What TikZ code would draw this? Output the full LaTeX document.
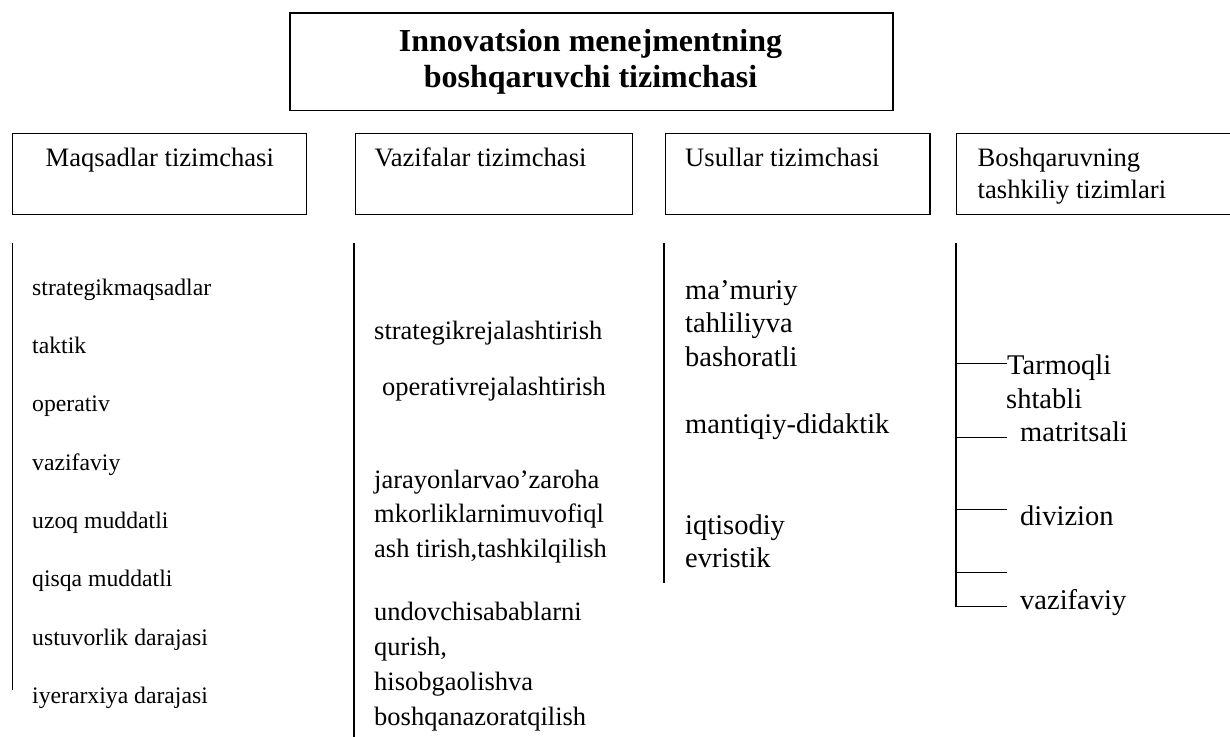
\documentclass[tikz,border=0pt]{standalone}
\usepackage{fontspec}
\setmainfont{Liberation Serif}
\begin{document}
\begin{tikzpicture}[x=1pt,y=-1pt,
  frame/.style={draw, line width=1.3pt, inner sep=0pt, anchor=north west},
  titleframe/.style={frame, line width=1.8pt},
  titletxt/.style={anchor=base, inner sep=0pt, font=\fontsize{32}{38}\selectfont\bfseries},
  headtxt/.style={anchor=base west, inner sep=0pt, font=\fontsize{26.6}{32}\selectfont},
  itemA/.style={anchor=base west, inner sep=0pt, font=\fontsize{23.7}{28}\selectfont},
  itemB/.style={anchor=base west, inner sep=0pt, font=\fontsize{26.5}{32}\selectfont},
  itemC/.style={anchor=base west, inner sep=0pt, font=\fontsize{28.5}{34}\selectfont},
  rule/.style={line width=1.3pt}]
\useasboundingbox (0,0) rectangle (1230,736);

% top box
\node[titleframe, minimum width=603pt, minimum height=97.8pt] (top) at (289,11.7) {};
\node[titletxt] (t1) at (590.5,51) {Innovatsion menejmentning};
\node[titletxt] (t2) at (590.5,87) {boshqaruvchi tizimchasi};

% subsystem boxes
\node[frame, minimum width=293.5pt, minimum height=81.5pt] (b1) at (12,132.5) {};
\node[frame, minimum width=277.5pt, minimum height=81.5pt] (b2) at (354.5,132.5) {};
\node[frame, minimum width=264.5pt, minimum height=81.5pt] (b3) at (664.8,132.5) {};
\node[frame, minimum width=290pt, minimum height=81.5pt] (b4) at (955.8,132.5) {};

\node[headtxt] (h1) at (45.5,166.7) {Maqsadlar tizimchasi};
\node[headtxt] (h2) at (374.3,166.7) {Vazifalar tizimchasi};
\node[headtxt] (h3) at (685,166.7) {Usullar tizimchasi};
\node[headtxt] (h4a) at (977.5,166.7) {Boshqaruvning};
\node[headtxt] (h4b) at (977.5,198.3) {tashkiliy tizimlari};

% column rules
\coordinate (c1t) at (12.7,243.3); \coordinate (c1b) at (12.7,690);
\coordinate (c2t) at (354,243.3);  \coordinate (c2b) at (354,737);
\coordinate (c3t) at (664,243.3);  \coordinate (c3b) at (664,583);
\coordinate (c4t) at (956,243.3);  \coordinate (c4b) at (956,606.7);
\draw[rule] (c1t) -- (c1b);
\draw[rule] (c2t) -- (c2b);
\draw[rule] (c3t) -- (c3b);
\draw[rule] (c4t) -- (c4b);

% column 1: goals
\node[itemA] (a1) at (32,295) {strategikmaqsadlar};
\node[itemA] (a2) at (32,353.3) {taktik};
\node[itemA] (a3) at (32,411.7) {operativ};
\node[itemA] (a4) at (32,470) {vazifaviy};
\node[itemA] (a5) at (32,528.3) {uzoq muddatli};
\node[itemA] (a6) at (32,586.7) {qisqa muddatli};
\node[itemA] (a7) at (32,645) {ustuvorlik darajasi};
\node[itemA] (a8) at (32,703.3) {iyerarxiya darajasi};

% column 2: tasks
\node[itemB] (v1) at (374,339) {strategikrejalashtirish};
\node[itemB] (v2) at (382,395.7) {operativrejalashtirish};
\node[itemB] (v3a) at (374,488.3) {jarayonlarvao’zaroha};
\node[itemB] (v3b) at (374,522.7) {mkorliklarnimuvofiql};
\node[itemB] (v3c) at (374,557.3) {ash tirish,tashkilqilish};
\node[itemB] (v4a) at (374,620) {undovchisabablarni};
\node[itemB] (v4b) at (374,655) {qurish,};
\node[itemB] (v4c) at (374,690) {hisobgaolishva};
\node[itemB] (v4d) at (374,725) {boshqanazoratqilish};

% column 3: methods
\node[itemC] (u1a) at (685,299) {ma’muriy};
\node[itemC] (u1b) at (685,332.7) {tahliliyva};
\node[itemC] (u1c) at (685,366) {bashoratli};
\node[itemC] (u2) at (685,433.3) {mantiqiy-didaktik};
\node[itemC] (u3a) at (685,534) {iqtisodiy};
\node[itemC] (u3b) at (685,567.3) {evristik};

% column 4: organisational structures
\node[itemC] (s1a) at (1007,374.3) {Tarmoqli};
\node[itemC] (s1b) at (1006,408.3) {shtabli};
\node[itemC] (s2) at (1020,441) {matritsali};
\node[itemC] (s3) at (1020,525) {divizion};
\node[itemC] (s4) at (1020,609.3) {vazifaviy};

\coordinate (k1) at (956,363.3);
\coordinate (k2) at (956,437.3);
\coordinate (k3) at (956,509.3);
\coordinate (k4) at (956,572.3);
\coordinate (k5) at (956,606.7);
\draw[rule] (k1) -- (s1a.west |- k1);
\draw[rule] (k2) -- ++(51.3,0);
\draw[rule] (k3) -- ++(51.3,0);
\draw[rule] (k4) -- ++(51.3,0);
\draw[rule] (k5) -- ++(51.3,0);
\end{tikzpicture}
\end{document}
